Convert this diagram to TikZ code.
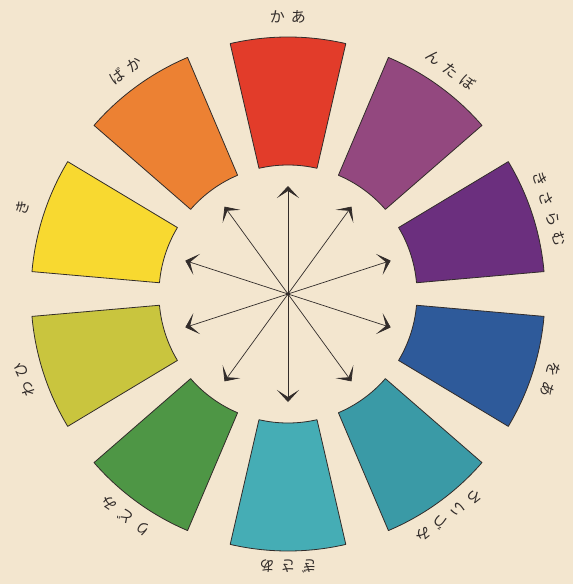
\documentclass[tikz,border=0pt]{standalone}
\usepackage{fontspec}
\newfontfamily\jpfont{Noto Sans CJK JP}
\usepackage{xcolor}
\usepackage{tikz}
\usetikzlibrary{arrows.meta}

\definecolor{paper}{RGB}{243,230,207}
\definecolor{ink}{RGB}{50,44,42}
\definecolor{aka}{RGB}{226,60,42}
\definecolor{botan}{RGB}{147,72,127}
\definecolor{murasaki}{RGB}{107,47,126}
\definecolor{awo}{RGB}{46,90,154}
\definecolor{mizuiro}{RGB}{58,154,166}
\definecolor{asagi}{RGB}{69,173,181}
\definecolor{midori}{RGB}{78,150,69}
\definecolor{hiwa}{RGB}{201,197,62}
\definecolor{ki}{RGB}{248,217,48}
\definecolor{kaba}{RGB}{236,129,51}
\newcommand\kg{\hspace{.4em}}

\begin{document}
\begin{tikzpicture}[
  seg/.style={draw=ink, line width=0.8pt, line join=round},
  lbl/.style={font=\jpfont\fontsize{15}{15}\selectfont, text=ink, inner sep=0pt},
  arrow/.style={-{Stealth[length=12pt, width=22pt, inset=7pt]}, line width=0.7pt, draw=ink},
]
\fill[paper] (-288pt,-290pt) rectangle (285pt,294pt);
\useasboundingbox (-288pt,-290pt) rectangle (285pt,294pt);

% colour blocks
\filldraw[seg, fill=aka] (77:129pt) -- (77:257pt) arc[start angle=77, end angle=103, radius=257pt] -- (103:129pt) arc[start angle=103, end angle=77, radius=129pt] -- cycle;
\filldraw[seg, fill=botan] (41:129pt) -- (41:257pt) arc[start angle=41, end angle=67, radius=257pt] -- (67:129pt) arc[start angle=67, end angle=41, radius=129pt] -- cycle;
\filldraw[seg, fill=murasaki] (5:129pt) -- (5:257pt) arc[start angle=5, end angle=31, radius=257pt] -- (31:129pt) arc[start angle=31, end angle=5, radius=129pt] -- cycle;
\filldraw[seg, fill=awo] (-31:129pt) -- (-31:257pt) arc[start angle=-31, end angle=-5, radius=257pt] -- (-5:129pt) arc[start angle=-5, end angle=-31, radius=129pt] -- cycle;
\filldraw[seg, fill=mizuiro] (-67:129pt) -- (-67:257pt) arc[start angle=-67, end angle=-41, radius=257pt] -- (-41:129pt) arc[start angle=-41, end angle=-67, radius=129pt] -- cycle;
\filldraw[seg, fill=asagi] (-103:129pt) -- (-103:257pt) arc[start angle=-103, end angle=-77, radius=257pt] -- (-77:129pt) arc[start angle=-77, end angle=-103, radius=129pt] -- cycle;
\filldraw[seg, fill=midori] (-139:129pt) -- (-139:257pt) arc[start angle=-139, end angle=-113, radius=257pt] -- (-113:129pt) arc[start angle=-113, end angle=-139, radius=129pt] -- cycle;
\filldraw[seg, fill=hiwa] (-175:129pt) -- (-175:257pt) arc[start angle=-175, end angle=-149, radius=257pt] -- (-149:129pt) arc[start angle=-149, end angle=-175, radius=129pt] -- cycle;
\filldraw[seg, fill=ki] (149:129pt) -- (149:257pt) arc[start angle=149, end angle=175, radius=257pt] -- (175:129pt) arc[start angle=175, end angle=149, radius=129pt] -- cycle;
\filldraw[seg, fill=kaba] (113:129pt) -- (113:257pt) arc[start angle=113, end angle=139, radius=257pt] -- (139:129pt) arc[start angle=139, end angle=113, radius=129pt] -- cycle;

% names, read from right to left
\node[lbl] (nAka) at (90:277pt) {か\kg あ};
\node[lbl, rotate=-36] (nBotan) at (54:277pt) {ん\kg た\kg ぼ};
\node[lbl, rotate=-72] (nMurasaki) at (18:275pt) {き\kg さ\kg ら\kg む};
\node[lbl, rotate=-108] (nAwo) at (-18:276pt) {を\kg あ};
\node[lbl, rotate=-144] (nMizuiro) at (-54:274pt) {ろ\kg い\kg づ\kg み};
\node[lbl, rotate=-180] (nAsagi) at (-90:272pt) {ぎ\kg さ\kg あ};
\node[lbl, rotate=-216] (nMidori) at (-126:275pt) {り\kg ど\kg み};
\node[lbl, rotate=-252] (nHiwa) at (-162:277pt) {わ\kg ひ};
\node[lbl, rotate=-288] (nKi) at (162:279pt) {き};
\node[lbl, rotate=-324] (nKaba) at (126:276pt) {ば\kg か};

% arrows from the middle
\coordinate (c) at (0,0);
\coordinate (toAka) at (90:108pt);
\coordinate (toBotan) at (54:108pt);
\coordinate (toMurasaki) at (18:108pt);
\coordinate (toAwo) at (-18:108pt);
\coordinate (toMizuiro) at (-54:108pt);
\coordinate (toAsagi) at (-90:108pt);
\coordinate (toMidori) at (-126:108pt);
\coordinate (toHiwa) at (-162:108pt);
\coordinate (toKi) at (162:108pt);
\coordinate (toKaba) at (126:108pt);

\draw[arrow] (c) -- (toAka);
\draw[arrow] (c) -- (toBotan);
\draw[arrow] (c) -- (toMurasaki);
\draw[arrow] (c) -- (toAwo);
\draw[arrow] (c) -- (toMizuiro);
\draw[arrow] (c) -- (toAsagi);
\draw[arrow] (c) -- (toMidori);
\draw[arrow] (c) -- (toHiwa);
\draw[arrow] (c) -- (toKi);
\draw[arrow] (c) -- (toKaba);
\fill[ink] (c) circle (1.8pt);

\end{tikzpicture}
\end{document}
